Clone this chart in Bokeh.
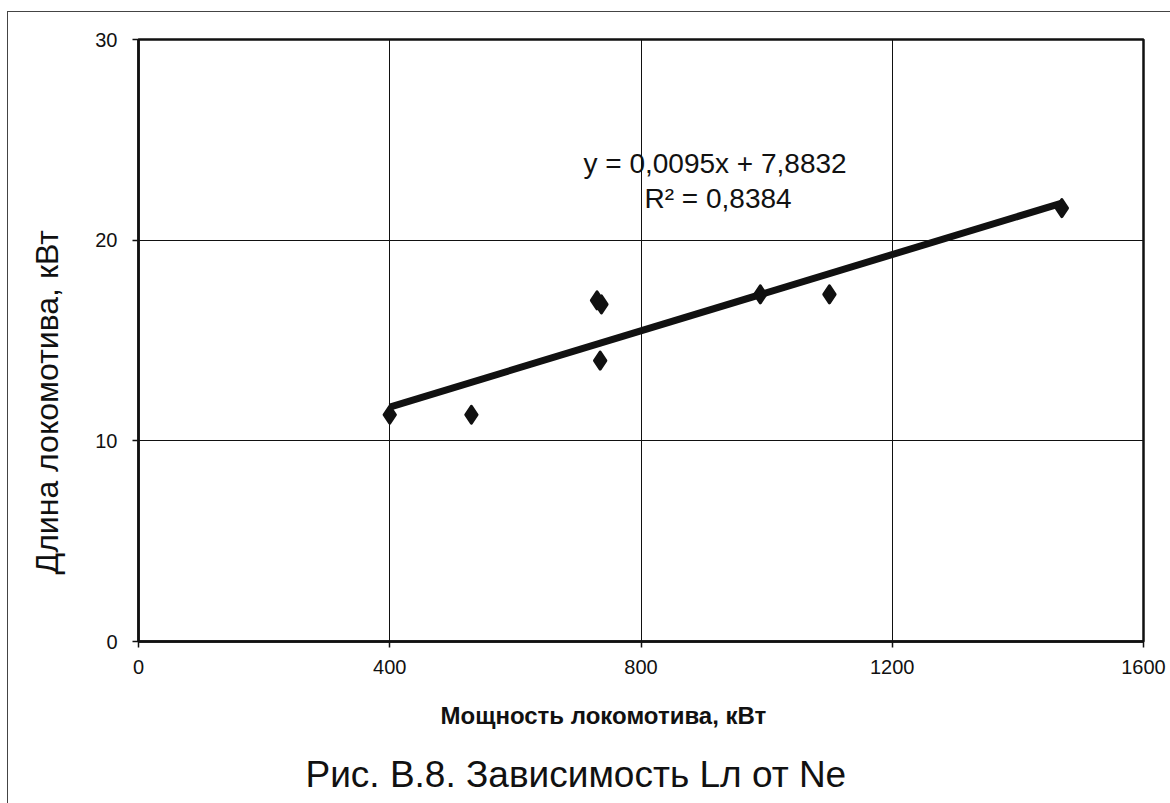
from bokeh.plotting import figure
from bokeh.models import Label, Range1d, Title, InlineStyleSheet
from bokeh.embed import file_html
from bokeh.resources import INLINE

# Locomotive power (kW) and locomotive length
power_kw = [400, 530, 730, 737, 735, 990, 1100, 1470]
length_m = [11.3, 11.3, 17.0, 16.8, 14.0, 17.3, 17.3, 21.6]

# Linear trend reported for the series
trend_slope = 0.0095
trend_intercept = 7.8832
r_squared = 0.8384

x_ticks = [0, 400, 800, 1200, 1600]
y_ticks = [0, 10, 20, 30]

x_title = "Мощность локомотива, кВт"
y_title = "Длина локомотива, кВт"
caption = "Рис. В.8. Зависимость Lл от Ne"

FONT = "Liberation Sans"
INK = "#111111"

p = figure(
    width=1170, height=803,
    x_range=Range1d(0, 1600), y_range=Range1d(0, 30),
    output_backend="svg", toolbar_location=None,
    min_border_left=138, min_border_right=27,
    min_border_top=39, min_border_bottom=162,
    background_fill_color="white", border_fill_color="white",
)

# page frame line along the left and top edges of the sheet
p.stylesheets = [InlineStyleSheet(css="""
:host { position: relative; }
:host::after {
  content: ""; position: absolute; left: 7px; top: 11px; right: 0; bottom: 0;
  border-left: 1.5px solid #444; border-top: 1.5px solid #444;
  pointer-events: none;
}
""")]

# axes
for ax in (p.xaxis[0], p.yaxis[0]):
    ax.axis_line_color = INK
    ax.axis_line_width = 2.5
    ax.major_tick_line_color = INK
    ax.major_tick_line_width = 1.5
    ax.major_tick_out = 6
    ax.major_tick_in = 0
    ax.minor_tick_line_color = None
    ax.major_label_text_font = FONT
    ax.major_label_text_font_size = "20px"
    ax.major_label_text_color = INK
p.xaxis.ticker = x_ticks
p.yaxis.ticker = y_ticks
p.xaxis.major_label_standoff = 12
p.yaxis.major_label_standoff = 15

p.grid.grid_line_color = INK
p.grid.grid_line_width = 1
p.outline_line_color = INK
p.outline_line_width = 2.5

# trend line over the span of the data
x0, x1 = min(power_kw), max(power_kw)
trend_x = [x0, x1]
trend_y = [trend_slope * v + trend_intercept for v in trend_x]
p.line(trend_x, trend_y, line_width=7, line_color=INK)

p.scatter(power_kw, length_m, marker="diamond", size=17,
          fill_color=INK, line_color=INK, line_width=3, line_join="round")

eq_text = f"y = {trend_slope:.4f}x + {trend_intercept:.4f}".replace(".", ",")
r2_text = f"R² = {r_squared:.4f}".replace(".", ",")

for text, sx, sy in ((eq_text, 445, 478), (r2_text, 506, 443)):
    p.add_layout(Label(
        x=sx, y=sy, x_units="screen", y_units="screen", text=text,
        text_font=FONT, text_font_size="28px", text_color=INK,
        text_align="left", text_baseline="middle",
    ))

# axis titles and figure caption
p.add_layout(Title(text=x_title, align="left", offset=302, standoff=46,
                   text_font=FONT, text_font_size="24px", text_font_style="bold",
                   text_color=INK), "below")
p.add_layout(Title(text=caption, align="left", offset=167, standoff=0,
                   text_font=FONT, text_font_size="37px", text_font_style="normal",
                   text_color=INK), "below")
p.add_layout(Title(text=y_title, align="left", offset=67, standoff=51,
                   vertical_align="top",
                   text_font=FONT, text_font_size="32px", text_font_style="normal",
                   text_color=INK), "left")

open("out.html", "w").write(file_html(p, INLINE))
